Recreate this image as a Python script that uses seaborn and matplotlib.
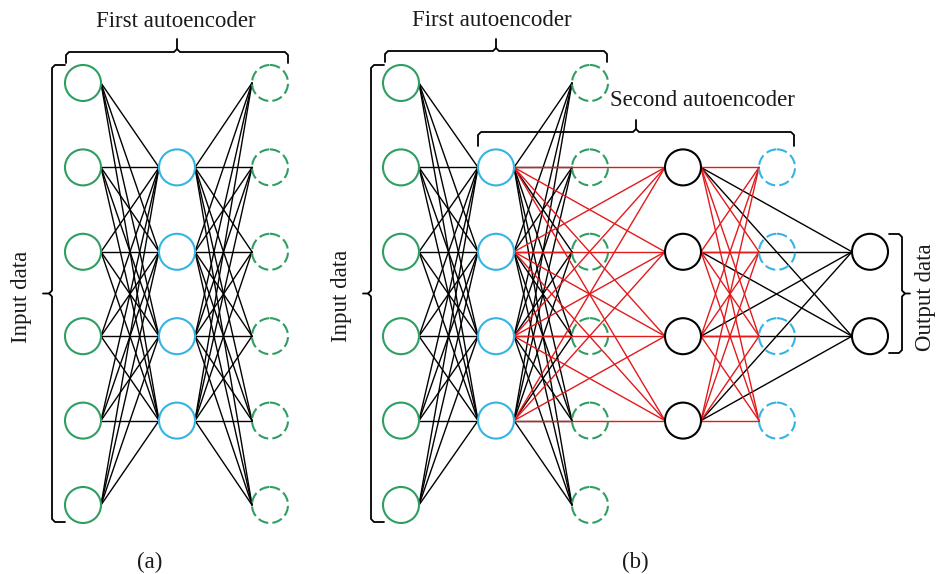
import pandas as pd
import seaborn as sns
import matplotlib.pyplot as plt
from matplotlib.patches import Circle

# network structure: number of nodes in each layer
panel_a_layers = [6, 4, 6]
panel_b_layers = [6, 4, 6, 4, 4, 2]

# which layers are connected (source, target)
panel_a_links = [(0, 1), (1, 2)]
panel_b_black_links = [(0, 1), (1, 2), (3, 5)]
panel_b_red_links = [(1, 3), (3, 4)]

# node kinds per layer
panel_a_kinds = ["input", "code1", "recon1"]
panel_b_kinds = ["input", "code1", "recon1", "code2", "recon2", "output"]

labels = {
    "first": "First autoencoder",
    "second": "Second autoencoder",
    "input": "Input data",
    "output": "Output data",
    "a": "(a)",
    "b": "(b)",
}

# layout (pixels)
R = 18
TOP = 83
STEP = 84.4
col_a = [83, 177, 270]
col_b = [401, 496, 590, 683, 777, 870]

node_style = {
    "input": dict(edgecolor="#2f9e62", linestyle="-", facecolor="white"),
    "code1": dict(edgecolor="#35b4e4", linestyle="-", facecolor="white"),
    "recon1": dict(edgecolor="#2f9e62", linestyle=(0, (5, 2)), facecolor="none"),
    "code2": dict(edgecolor="black", linestyle="-", facecolor="white"),
    "recon2": dict(edgecolor="#35b4e4", linestyle=(0, (5, 2)), facecolor="none"),
    "output": dict(edgecolor="black", linestyle="-", facecolor="white"),
}


def rows(n):
    # centre the layer on the 6-node column
    off = (6 - n) / 2
    return [TOP + STEP * (off + k) for k in range(n)]


def edge_frame(cols, layers, links, tag):
    recs = []
    for s, t in links:
        for i, ys in enumerate(rows(layers[s])):
            for j, yt in enumerate(rows(layers[t])):
                eid = f"{tag}-{s}-{t}-{i}-{j}"
                recs.append({"edge": eid, "x": cols[s] + R, "y": ys})
                recs.append({"edge": eid, "x": cols[t] - R, "y": yt})
    return pd.DataFrame(recs)


sns.set_theme(style="white")
plt.rcParams["font.family"] = ["Liberation Serif", "DejaVu Serif"]

fig = plt.figure(figsize=(9.38, 5.74), dpi=100)
ax = fig.add_axes([0, 0, 1, 1])

df_a = edge_frame(col_a, panel_a_layers, panel_a_links, "a")
df_bk = edge_frame(col_b, panel_b_layers, panel_b_black_links, "bk")
df_br = edge_frame(col_b, panel_b_layers, panel_b_red_links, "br")

for d, c, z in [(df_a, "black", 1), (df_bk, "black", 1), (df_br, "#e31a1c", 2)]:
    sns.lineplot(data=d, x="x", y="y", units="edge", estimator=None, sort=False,
                 color=c, lw=1.0, ax=ax, zorder=z, legend=False)

for cols, layers, kinds in [(col_a, panel_a_layers, panel_a_kinds),
                            (col_b, panel_b_layers, panel_b_kinds)]:
    for x, n, k in zip(cols, layers, kinds):
        for y in rows(n):
            ax.add_patch(Circle((x, y), R, lw=1.5, zorder=3, **node_style[k]))


def hbrace(x0, x1, y, depth, tip):
    xm = (x0 + x1) / 2
    ax.plot([x0, x0, x0 + 3, xm - 3, xm, xm], [y + depth, y + 3, y, y, y - 3, y - tip],
            color="black", lw=1.3, zorder=4)
    ax.plot([xm, xm + 3, x1 - 3, x1, x1], [y - 3, y, y, y + 3, y + depth],
            color="black", lw=1.3, zorder=4)


def vbrace(x, y0, y1, hook, tip):
    # hook > 0: hooks point right, tip points left
    ym = (y0 + y1) / 2
    s = 1 if hook > 0 else -1
    ax.plot([x + hook, x + s * 3, x, x, x - s * 3, x - s * tip],
            [y0, y0, y0 + 3, ym - 3, ym, ym], color="black", lw=1.3, zorder=4)
    ax.plot([x - s * 3, x, x, x + s * 3, x + hook],
            [ym, ym + 3, y1 - 3, y1, y1], color="black", lw=1.3, zorder=4)


hbrace(66, 288, 52, 11, 13)
hbrace(385, 607, 51, 11, 12)
hbrace(478, 794, 132, 14, 12)
vbrace(52, 65, 522, 13, 9)
vbrace(371, 65, 522, 13, 8)
vbrace(902, 234, 353, -13, 8)

fs = 16.5
tc = "#1a1a1a"
ax.text(176, 27, labels["first"], ha="center", va="baseline", fontsize=fs, color=tc)
ax.text(492, 26, labels["first"], ha="center", va="baseline", fontsize=fs, color=tc)
ax.text(702, 106, labels["second"], ha="center", va="baseline", fontsize=fs, color=tc)
ax.text(21, 297, labels["input"], ha="center", va="center", rotation=90, fontsize=fs, color=tc)
ax.text(341, 296, labels["input"], ha="center", va="center", rotation=90, fontsize=fs, color=tc)
ax.text(925, 297, labels["output"], ha="center", va="center", rotation=90, fontsize=fs, color=tc)
ax.text(150, 562, labels["a"], ha="center", va="center", fontsize=fs, color=tc)
ax.text(635, 562, labels["b"], ha="center", va="center", fontsize=fs, color=tc)

ax.set_xlim(0, 938)
ax.set_ylim(574, 0)
ax.set_aspect("equal")
ax.axis("off")

fig.savefig("out.png", dpi=100, facecolor="white")
